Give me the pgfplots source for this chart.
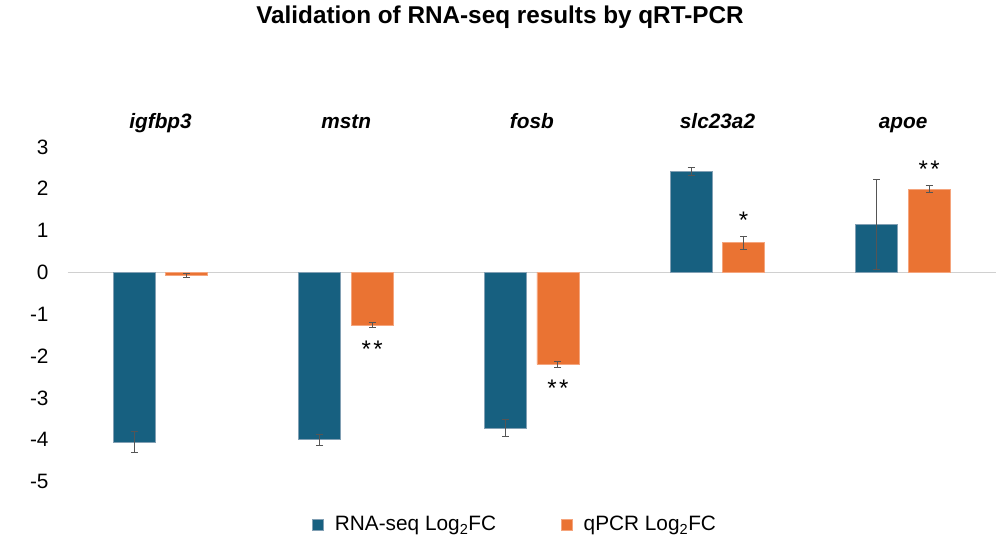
\documentclass[border=0pt]{standalone}
\usepackage{pgfplots}
\pgfplotsset{compat=1.18}
\usepackage{fontspec}
\setmainfont{Liberation Sans}

\definecolor{seqblue}{RGB}{23,96,128}
\definecolor{seqedge}{RGB}{130,160,180}
\definecolor{pcrorange}{RGB}{234,115,51}
\definecolor{pcredge}{RGB}{245,165,125}
\definecolor{errgray}{RGB}{85,85,85}
\definecolor{zerogray}{RGB}{208,208,208}

\begin{document}
\begin{tikzpicture}[
  genename/.style={anchor=base, inner sep=0pt,
    font=\fontsize{20.8}{24}\selectfont\bfseries\itshape},
  signif/.style={inner sep=0pt, font=\fontsize{24}{28}\selectfont},
]
\useasboundingbox (0pt,0pt) rectangle (998pt,556pt);
\begin{axis}[
  at={(67.7pt,74.4pt)}, anchor=south west,
  scale only axis, width=928.3pt, height=334.7pt,
  xmin=-0.5, xmax=4.5, ymin=-5, ymax=3,
  clip=false,
  axis line style={draw=none},
  major tick length=0pt,
  xtick=\empty,
  ytick={-5,-4,-3,-2,-1,0,1,2,3},
  yticklabels={-5,-4,-3,-2,-1,0,1,2,3},
  yticklabel style={anchor=east, inner sep=0pt, xshift=-19pt,
    font=\fontsize{20.8}{24}\selectfont},
  title={\textbf{Validation of RNA-seq results by qRT-PCR}},
  title style={at={(0.4657,1.352)}, anchor=base, inner sep=0pt,
    font=\fontsize{24.3}{28}\selectfont},
  ybar, bar width=42pt,
  legend columns=2,
  legend style={draw=none, at={(0.482,-0.128)}, anchor=center,
    font=\fontsize{20.8}{24}\selectfont,
    /tikz/every even column/.append style={column sep=63pt}},
  legend image code/.code={\fill[#1] (0pt,-5.5pt) rectangle (11pt,5.5pt);
    \path (20pt,0pt);},
  error bars/y dir=both, error bars/y explicit,
  error bars/error bar style={color=errgray, line width=0.9pt},
  error bars/error mark options={rotate=90, mark size=3.5pt,
    line width=0.9pt, color=errgray},
]
% baseline at zero
\draw[zerogray, line width=1.2pt] (axis cs:-0.5,0) -- (axis cs:4.5,0);

% RNA-seq log2 fold change
\addplot[fill=seqblue, draw=seqedge, line width=0.6pt, bar shift=-26.5pt]
  coordinates {
    (0,-4.06) +- (0,0.25)
    (1,-4.00) +- (0,0.13)
    (2,-3.72) +- (0,0.20)
    (3, 2.41) +- (0,0.09)
    (4, 1.14) +- (0,1.08)
  };
\addlegendentry{RNA-seq Log\textsubscript{2}FC}

% qPCR log2 fold change
\addplot[fill=pcrorange, draw=pcredge, line width=0.6pt, bar shift=26pt]
  coordinates {
    (0,-0.07) +- (0,0.04)
    (1,-1.26) +- (0,0.06)
    (2,-2.20) +- (0,0.08)
    (3, 0.71) +- (0,0.15)
    (4, 1.99) +- (0,0.085)
  };
\addlegendentry{qPCR Log\textsubscript{2}FC}

% gene names
\node[genename] at (axis cs:0,3.45) {igfbp3};
\node[genename] at (axis cs:1,3.45) {mstn};
\node[genename] at (axis cs:2,3.45) {fosb};
\node[genename] at (axis cs:3,3.45) {slc23a2};
\node[genename] at (axis cs:4,3.45) {apoe};

% significance marks
\node[signif] at (axis cs:1.14,-1.84) {*\hspace{2.4pt}*};
\node[signif] at (axis cs:2.14,-2.77) {*\hspace{2.4pt}*};
\node[signif] at (axis cs:3.14,1.25) {*};
\node[signif] at (axis cs:4.14,2.47) {*\hspace{2.4pt}*};
\end{axis}
\end{tikzpicture}
\end{document}
